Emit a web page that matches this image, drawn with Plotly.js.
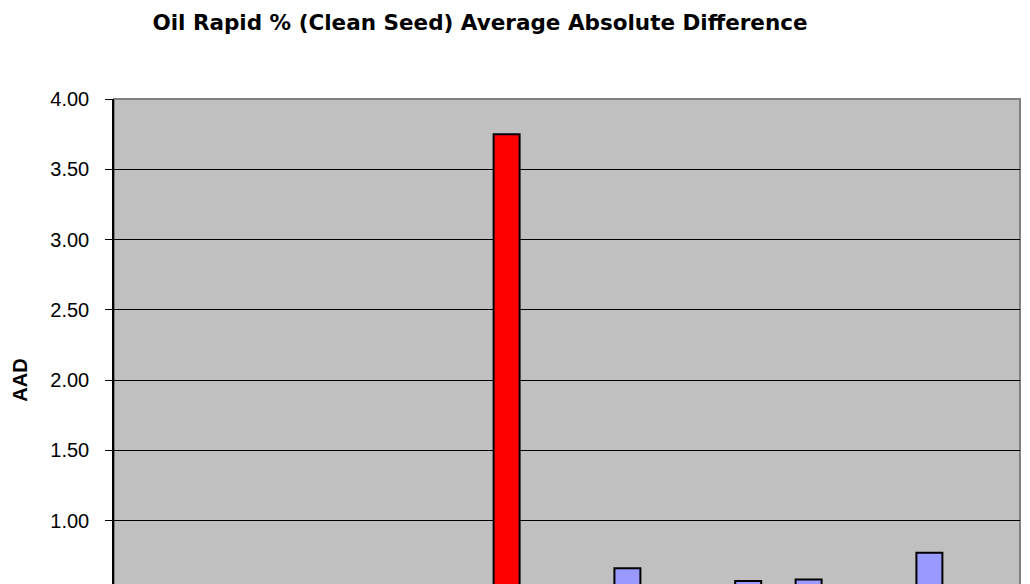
<!DOCTYPE html>
<html>
<head>
<meta charset="utf-8">
<script src="https://cdn.plot.ly/plotly-3.0.1.min.js"></script>
<style>
  html, body { margin: 0; padding: 0; overflow: hidden; background: #fff; }
  #chart { width: 1030px; height: 751px; }
</style>
</head>
<body>
<div id="chart"></div>
<script>
// lab codes (their labels would sit below the visible area, so they are not drawn)
var labs = ['1', '2', '3', '4', '5', '6', '7', '8', '9', '10', '11', '12', '13', '14', '15'];
// average absolute difference per lab
var aad = [0.32, 0.41, 0.28, 0.36, 0.22, 0.45, 3.75, 0.38, 0.66, 0.30, 0.57, 0.58, 0.27, 0.77, 0.19];
// bar colours: red = outlier lab
var barColors = ['#9999FF', '#9999FF', '#9999FF', '#9999FF', '#9999FF', '#9999FF', '#FF0000',
                 '#9999FF', '#9999FF', '#9999FF', '#9999FF', '#9999FF', '#9999FF', '#9999FF', '#9999FF'];
var yTicks = [0, 0.5, 1, 1.5, 2, 2.5, 3, 3.5, 4];

var trace = {
    x: labs,
    y: aad,
    type: 'bar',
    marker: {
        color: barColors,
        line: { color: '#000000', width: 2 }
    },
    hoverinfo: 'x+y'
};

var layout = {
    width: 1030,
    height: 751,
    margin: { l: 114, r: 10, t: 99, b: 90, pad: 0 },
    paper_bgcolor: '#FFFFFF',
    plot_bgcolor: '#C0C0C0',
    bargap: 0.57,
    showlegend: false,
    font: { family: 'Liberation Sans, Arial, sans-serif', color: '#000000', size: 20 },
    title: {
        text: '<b>Oil Rapid % (Clean Seed) Average Absolute Difference</b>',
        font: { family: 'DejaVu Sans, sans-serif', size: 21.5, color: '#000000' },
        xref: 'container', x: 0.466, xanchor: 'center',
        yref: 'container', y: 1 - 22 / 751, yanchor: 'middle'
    },
    xaxis: {
        type: 'category',
        showline: true, linecolor: '#000000', linewidth: 1,
        showgrid: false, zeroline: false,
        ticks: 'outside', ticklen: 6, tickcolor: '#000000',
        showticklabels: false
    },
    yaxis: {
        range: [0, 4],
        tickvals: yTicks,
        tickformat: '.2f',
        showline: true, linecolor: '#000000', linewidth: 1.5,
        showgrid: true, gridcolor: '#000000', gridwidth: 1,
        zeroline: false,
        ticks: 'outside', ticklen: 7, tickcolor: '#000000',
        ticklabelstandoff: 12,
        tickfont: { size: 20 },
        title: { text: '<b>AAD</b>', font: { size: 20 }, standoff: 17 }
    },
    shapes: [{
        type: 'rect', xref: 'paper', yref: 'paper',
        x0: 0, x1: 1, y0: 0, y1: 1,
        line: { color: '#808080', width: 2 },
        fillcolor: 'rgba(0,0,0,0)',
        layer: 'below'
    }]
};

Plotly.newPlot('chart', [trace], layout, { displayModeBar: false, responsive: false });
</script>
</body>
</html>
